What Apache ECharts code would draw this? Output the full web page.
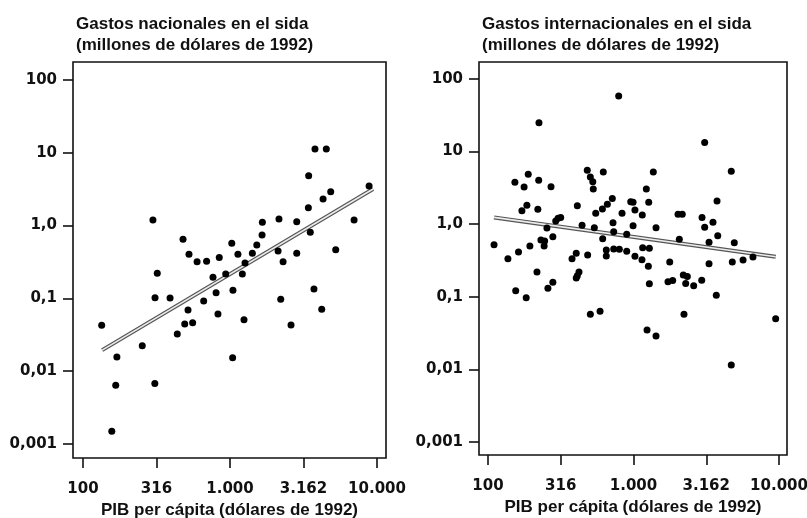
<!DOCTYPE html>
<html>
<head>
<meta charset="utf-8">
<script src="https://cdn.jsdelivr.net/npm/echarts@6/dist/echarts.min.js"></script>
<style>
html,body{margin:0;padding:0;background:#fff;}
#chart{width:807px;height:518px;}
</style>
</head>
<body>
<div id="chart"></div>
<script>
// ---- Tick labels ----
const xTickValues = [100, 316.228, 1000, 3162.28, 10000];
const xTickLabels = ['100', '316', '1.000', '3.162', '10.000'];
const yTickValues = [0.001, 0.01, 0.1, 1, 10, 100];
const yTickLabels = ['0,001', '0,01', '0,1', '1,0', '10', '100'];

// ---- Titles ----
const leftTitle = 'Gastos nacionales en el sida\n(millones de dólares de 1992)';
const rightTitle = 'Gastos internacionales en el sida\n(millones de dólares de 1992)';
const xAxisName = 'PIB per cápita (dólares de 1992)';

// ---- National spending (left panel) ----
const nationalGdp = [299, 320, 479, 526, 597, 693, 845, 1028, 1132, 1265, 1419, 1521, 1652, 1660, 2153, 2123, 2296, 2844, 2844, 3412, 3516, 3428, 3784, 4519, 4295, 4842, 5236, 6982, 8831, 766, 935, 1213, 309, 391, 804, 1047, 662, 518, 828, 1245, 134, 492, 557, 438, 253, 170, 1042, 167, 308, 157, 2213, 2600, 3724, 4207];
const nationalSpend = [1.19, 0.221, 0.649, 0.404, 0.319, 0.324, 0.365, 0.571, 0.404, 0.306, 0.416, 0.542, 0.743, 1.11, 1.23, 0.448, 0.319, 1.13, 0.416, 1.76, 0.809, 4.84, 11.3, 11.3, 2.32, 2.92, 0.467, 1.19, 3.50, 0.195, 0.216, 0.216, 0.102, 0.101, 0.120, 0.129, 0.092, 0.0693, 0.0611, 0.0509, 0.0427, 0.0445, 0.0463, 0.0324, 0.0224, 0.0157, 0.0153, 0.0064, 0.0068, 0.0015, 0.0973, 0.0432, 0.135, 0.0708];
const nationalFitGdp = [135, 9400];
const nationalFitSpend = [0.0195, 3.18];

// ---- International spending (right panel) ----
const intlGdp = [791, 224, 3084, 4699, 1368, 620, 481, 505, 525, 529, 189, 153, 177, 223, 271, 1225, 715, 661, 611, 550, 957, 993, 1023, 1272, 3750, 411, 185, 171, 220, 834, 1149, 2023, 2163, 292, 303, 316, 2958, 3084, 3517, 3793, 1428, 993, 723, 731, 538, 443, 254, 279, 231, 245, 243, 614, 898, 2065, 3304, 4929, 6623, 110, 162, 194, 137, 404, 378, 484, 650, 650, 731, 799, 898, 1156, 1285, 1023, 1143, 1265, 1774, 3304, 4775, 5662, 217, 422, 411, 404, 279, 258, 155, 183, 1285, 1726, 1859, 2199, 2344, 2284, 2592, 2944, 3707, 505, 589, 2223, 9487, 1239, 1428, 4699];
const intlSpend = [58.3, 25.0, 13.3, 5.36, 5.24, 5.24, 5.53, 4.47, 3.85, 3.05, 4.87, 3.78, 3.25, 4.02, 3.29, 3.05, 2.25, 1.88, 1.62, 1.41, 2.04, 2.00, 1.57, 2.00, 2.09, 1.80, 1.82, 1.53, 1.60, 1.41, 1.34, 1.37, 1.37, 1.11, 1.21, 1.24, 1.24, 0.906, 1.06, 0.695, 0.895, 0.953, 1.05, 0.789, 0.895, 0.966, 0.887, 0.673, 0.606, 0.587, 0.501, 0.631, 0.726, 0.619, 0.563, 0.556, 0.353, 0.522, 0.414, 0.501, 0.335, 0.397, 0.335, 0.377, 0.442, 0.365, 0.455, 0.452, 0.424, 0.474, 0.466, 0.361, 0.324, 0.263, 0.301, 0.286, 0.301, 0.321, 0.220, 0.220, 0.195, 0.182, 0.158, 0.131, 0.121, 0.0973, 0.151, 0.161, 0.167, 0.200, 0.191, 0.153, 0.142, 0.169, 0.105, 0.0574, 0.0631, 0.0574, 0.0499, 0.0349, 0.0288, 0.0115];
const intlFitGdp = [110, 9490];
const intlFitSpend = [1.24, 0.356];

function pairs(xs, ys) { return xs.map((x, i) => [x, ys[i]]); }
function labelFor(vals, labels) {
  return function (v) {
    for (let i = 0; i < vals.length; i++) {
      if (Math.abs(Math.log10(v) - Math.log10(vals[i])) < 0.01) return labels[i];
    }
    return '';
  };
}

const tickFont = { fontFamily: 'DejaVu Sans', fontWeight: 'bold', fontSize: 15, color: '#111' };
const nameFont = { fontFamily: 'Liberation Sans', fontWeight: 'bold', fontSize: 17, color: '#111' };

function xAxisDef(gi, min, max) {
  return {
    type: 'log', logBase: 10, gridIndex: gi, min: min, max: max,
    axisLine: { show: false },
    axisTick: { show: true, inside: false, length: 10, customValues: xTickValues, lineStyle: { color: '#111', width: 1.6 } },
    axisLabel: Object.assign({ margin: 24, customValues: xTickValues, formatter: labelFor(xTickValues, xTickLabels) }, tickFont),
    splitLine: { show: false }, minorTick: { show: false },
    name: xAxisName, nameLocation: 'middle', nameGap: 42, nameTextStyle: nameFont
  };
}
function yAxisDef(gi, min, max) {
  return {
    type: 'log', logBase: 10, gridIndex: gi, min: min, max: max,
    axisLine: { show: false },
    axisTick: { show: true, inside: false, length: 10, customValues: yTickValues, lineStyle: { color: '#111', width: 1.6 } },
    axisLabel: Object.assign({ margin: 16, customValues: yTickValues, formatter: labelFor(yTickValues, yTickLabels) }, tickFont),
    splitLine: { show: false }, minorTick: { show: false }
  };
}

function fitSeries(xi, data) {
  return [
    { type: 'line', xAxisIndex: xi, yAxisIndex: xi, data: data, symbol: 'none', silent: true, z: 3,
      lineStyle: { color: '#555', width: 4 } },
    { type: 'line', xAxisIndex: xi, yAxisIndex: xi, data: data, symbol: 'none', silent: true, z: 4,
      lineStyle: { color: '#ececec', width: 1.6 } }
  ];
}

const chart = echarts.init(document.getElementById('chart'), null, { renderer: 'canvas' });
chart.setOption({
  animation: false,
  backgroundColor: '#fff',
  title: [
    { text: leftTitle, left: 76, top: 14, padding: 0, textStyle: Object.assign({ lineHeight: 21 }, nameFont) },
    { text: rightTitle, left: 482, top: 14, padding: 0, textStyle: Object.assign({ lineHeight: 21 }, nameFont) }
  ],
  grid: [
    { left: 73, top: 62, width: 313, height: 396, outerBoundsMode: 'none', containLabel: false, show: true, borderColor: '#111', borderWidth: 1.6, backgroundColor: 'transparent' },
    { left: 479, top: 62, width: 308, height: 393, outerBoundsMode: 'none', containLabel: false, show: true, borderColor: '#111', borderWidth: 1.6, backgroundColor: 'transparent' }
  ],
  xAxis: [xAxisDef(0, 85.5, 11510), xAxisDef(1, 86.7, 11350)],
  yAxis: [yAxisDef(0, 0.000643, 176.6), yAxisDef(1, 0.000662, 171.4)],
  series: [
    ...fitSeries(0, pairs(nationalFitGdp, nationalFitSpend)),
    ...fitSeries(1, pairs(intlFitGdp, intlFitSpend)),
    { type: 'scatter', xAxisIndex: 0, yAxisIndex: 0, data: pairs(nationalGdp, nationalSpend), symbol: 'circle', symbolSize: 7, itemStyle: { color: '#000', opacity: 1 }, z: 5 },
    { type: 'scatter', xAxisIndex: 1, yAxisIndex: 1, data: pairs(intlGdp, intlSpend), symbol: 'circle', symbolSize: 7, itemStyle: { color: '#000', opacity: 1 }, z: 5 }
  ]
});
</script>
</body>
</html>
